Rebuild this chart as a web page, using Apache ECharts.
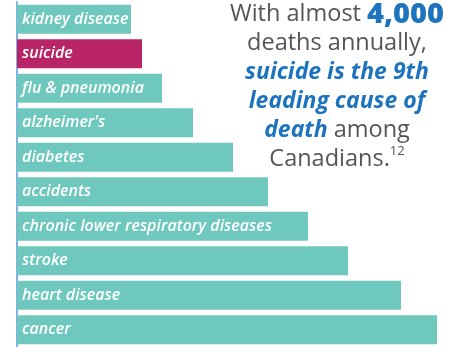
<!DOCTYPE html>
<html>
<head>
<meta charset="utf-8">
<style>
  html, body { margin: 0; padding: 0; background: #ffffff; }
  #chart { width: 455px; height: 347px; }
</style>
<script src="https://cdn.jsdelivr.net/npm/echarts@6/dist/echarts.min.js"></script>
</head>
<body>
<div id="chart"></div>
<script>
// Categories (top to bottom)
const categories = [
  "kidney disease", "suicide", "flu & pneumonia", "alzheimer's", "diabetes",
  "accidents", "chronic lower respiratory diseases", "stroke", "heart disease", "cancer"
];
// Bar lengths (relative units)
const values = [114, 125, 145, 176, 216, 251, 291, 331, 384, 420];
const highlightCategory = "suicide";

const tealColor = "#6ec8bd";
const highlightColor = "#b82466";
const grayText = "#555555";
const blueText = "#1e73be";

const chart = echarts.init(document.getElementById('chart'), null, { renderer: 'canvas' });

const option = {
  animation: false,
  backgroundColor: '#ffffff',
  grid: { left: 17, top: 2, width: 438, height: 347, containLabel: false },
  xAxis: {
    type: 'value', min: 0, max: 438,
    show: false
  },
  yAxis: {
    type: 'category',
    data: categories,
    inverse: true,
    axisLine: { show: true, lineStyle: { color: '#7eb2e4', width: 2 } },
    axisTick: { show: false },
    axisLabel: { show: false },
    splitLine: { show: false }
  },
  series: [{
    type: 'bar',
    barWidth: 29,
    data: values.map((v, i) => ({
      value: v,
      itemStyle: { color: categories[i] === highlightCategory ? highlightColor : tealColor }
    })),
    label: {
      show: true,
      position: 'insideLeft',
      distance: 5,
      formatter: (p) => p.name,
      color: '#ffffff',
      fontFamily: 'Open Sans',
      fontStyle: 'italic',
      fontWeight: 600,
      fontSize: 16
    },
    z: 3
  }],
  graphic: [{
    type: 'text',
    z: 10,
    x: 337,
    y: 0,
    style: {
      x: 0, y: 0,
      text: '{g|With almost }{b|4,000}\n{g|deaths annually,}\n{bi|suicide is the 9th}\n{bi|leading cause of}\n{bi|death}{g| among}\n{g|Canadians.}{sup|12}',
      align: 'center',
      verticalAlign: 'top',
      fontFamily: 'Open Sans',
      fill: grayText,
      rich: {
        g: { fontFamily: 'Open Sans', fontSize: 23.5, fill: grayText, color: grayText, lineHeight: 29 },
        b: { fontFamily: 'Open Sans', fontSize: 29, fontWeight: 800, fill: blueText, color: blueText, lineHeight: 29 },
        bi: { fontFamily: 'Open Sans', fontSize: 23, fontWeight: 700, fontStyle: 'italic', fill: blueText, color: blueText, lineHeight: 29 },
        sup: { fontFamily: 'Open Sans', fontSize: 13, fill: grayText, color: grayText, lineHeight: 29, verticalAlign: 'top', padding: [0, 0, 10, 0] }
      }
    }
  }]
};
chart.setOption(option);
</script>
</body>
</html>
